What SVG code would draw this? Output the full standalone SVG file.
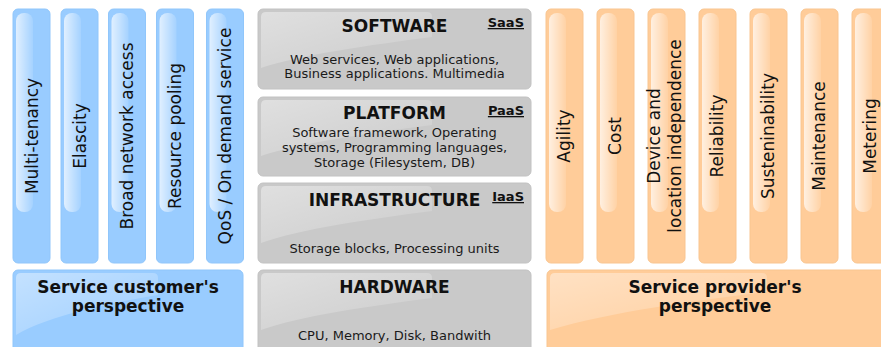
<svg xmlns="http://www.w3.org/2000/svg" width="881" height="347" viewBox="0 0 881 347">
<defs>
<linearGradient id="colGloss" x1="0" y1="0" x2="1" y2="0">
<stop offset="0" stop-color="#fff" stop-opacity="0.7"/>
<stop offset="1" stop-color="#fff" stop-opacity="0.12"/>
</linearGradient>
<linearGradient id="boxGloss" x1="0" y1="0" x2="1" y2="1">
<stop offset="0" stop-color="#fff" stop-opacity="0.42"/>
<stop offset="1" stop-color="#fff" stop-opacity="0.05"/>
</linearGradient>
</defs>
<style>
.blue{fill:#99ccff;stroke:#90c6fb;stroke-width:1}
.orange{fill:#ffcc99;stroke:#f9c590;stroke-width:1}
.gray{fill:#c9c9c9;stroke:#c2c2c2;stroke-width:1}
.cg{fill:url(#colGloss)}
.bg{fill:url(#boxGloss)}
.lbl{font-family:"DejaVu Sans",sans-serif;font-size:17px;fill:#111;text-anchor:middle}
.title{font-family:"DejaVu Sans",sans-serif;font-size:17px;font-weight:bold;fill:#111;text-anchor:middle}
.body{font-family:"DejaVu Sans",sans-serif;font-size:13px;fill:#1a1a1a;text-anchor:middle}
.tag{font-family:"DejaVu Sans",sans-serif;font-size:13px;font-weight:bold;fill:#111;text-anchor:end;text-decoration:underline}
</style>

<g id="col-multitenancy">
<rect class="blue" x="13" y="9" width="37" height="254" rx="5"/>
<rect class="cg" x="16" y="13" width="17" height="199" rx="8"/>
<text class="lbl" transform="translate(37.5,136) rotate(-90)">Multi-tenancy</text>
</g>
<g id="col-elascity">
<rect class="blue" x="61" y="9" width="37" height="254" rx="5"/>
<rect class="cg" x="64" y="13" width="17" height="199" rx="8"/>
<text class="lbl" transform="translate(85.5,136) rotate(-90)">Elascity</text>
</g>
<g id="col-broad">
<rect class="blue" x="108.5" y="9" width="37" height="254" rx="5"/>
<rect class="cg" x="111.5" y="13" width="17" height="199" rx="8"/>
<text class="lbl" transform="translate(133,136) rotate(-90)">Broad network access</text>
</g>
<g id="col-pooling">
<rect class="blue" x="156.5" y="9" width="37" height="254" rx="5"/>
<rect class="cg" x="159.5" y="13" width="17" height="199" rx="8"/>
<text class="lbl" transform="translate(181,136) rotate(-90)">Resource pooling</text>
</g>
<g id="col-qos">
<rect class="blue" x="206.5" y="9" width="37" height="254" rx="5"/>
<rect class="cg" x="209.5" y="13" width="17" height="199" rx="8"/>
<text class="lbl" transform="translate(231,136) rotate(-90)">QoS / On demand service</text>
</g>

<g id="customer">
<rect class="blue" x="13" y="270" width="230" height="90" rx="5"/>
<path class="bg" d="M16,278 Q16,273 21,273 L153,273 Q158,273 158,278 L158,295 C110,303 50,315 16,335 Z"/>
<text class="title" x="128" y="293">Service customer's</text>
<text class="title" x="128" y="312">perspective</text>
</g>

<g id="software">
<rect class="gray" x="258" y="9" width="273" height="80" rx="5"/>
<path class="bg" d="M261,17 Q261,12 266,12 L427,12 Q432,12 432,17 L432,37 C370,45 300,55 261,68 Z"/>
<text class="title" x="394.5" y="32">SOFTWARE</text>
<text class="tag" x="524" y="27">SaaS</text>
<text class="body" x="394.5" y="63.5">Web services, Web applications,</text>
<text class="body" x="394.5" y="78">Business applications. Multimedia</text>
</g>
<g id="platform">
<rect class="gray" x="258" y="97" width="273" height="79" rx="5"/>
<path class="bg" d="M261,105 Q261,100 266,100 L427,100 Q432,100 432,105 L432,125 C370,133 300,143 261,156 Z"/>
<text class="title" x="394.5" y="119">PLATFORM</text>
<text class="tag" x="524" y="115">PaaS</text>
<text class="body" x="394.5" y="136.5">Software framework, Operating</text>
<text class="body" x="394.5" y="151.5">systems, Programming languages,</text>
<text class="body" x="394.5" y="166.5">Storage (Filesystem, DB)</text>
</g>
<g id="infrastructure">
<rect class="gray" x="258" y="183" width="273" height="80" rx="5"/>
<path class="bg" d="M261,191 Q261,186 266,186 L427,186 Q432,186 432,191 L432,211 C370,219 300,229 261,243 Z"/>
<text class="title" x="394.5" y="206">INFRASTRUCTURE</text>
<text class="tag" x="524" y="201">IaaS</text>
<text class="body" x="394.5" y="253">Storage blocks, Processing units</text>
</g>
<g id="hardware">
<rect class="gray" x="258" y="270" width="273" height="90" rx="5"/>
<path class="bg" d="M261,278 Q261,273 266,273 L427,273 Q432,273 432,278 L432,298 C370,306 300,316 261,330 Z"/>
<text class="title" x="394.5" y="293">HARDWARE</text>
<text class="body" x="394.5" y="339.5">CPU, Memory, Disk, Bandwith</text>
</g>

<g id="col-agility">
<rect class="orange" x="546" y="9" width="37" height="254" rx="5"/>
<rect class="cg" x="549" y="13" width="17" height="199" rx="8"/>
<text class="lbl" transform="translate(570,136) rotate(-90)">Agility</text>
</g>
<g id="col-cost">
<rect class="orange" x="597" y="9" width="37" height="254" rx="5"/>
<rect class="cg" x="600" y="13" width="17" height="199" rx="8"/>
<text class="lbl" transform="translate(621,136) rotate(-90)">Cost</text>
</g>
<g id="col-device">
<rect class="orange" x="648" y="9" width="37" height="254" rx="5"/>
<rect class="cg" x="651" y="13" width="17" height="199" rx="8"/>
<text class="lbl" transform="translate(666.5,136) rotate(-90)"><tspan x="0" y="-6.5">Device and</tspan><tspan x="0" y="14.5">location independence</tspan></text>
</g>
<g id="col-reliability">
<rect class="orange" x="699" y="9" width="37" height="254" rx="5"/>
<rect class="cg" x="702" y="13" width="17" height="199" rx="8"/>
<text class="lbl" transform="translate(723,136) rotate(-90)">Reliability</text>
</g>
<g id="col-sustainability">
<rect class="orange" x="750" y="9" width="37" height="254" rx="5"/>
<rect class="cg" x="753" y="13" width="17" height="199" rx="8"/>
<text class="lbl" transform="translate(774,136) rotate(-90)">Susteninability</text>
</g>
<g id="col-maintenance">
<rect class="orange" x="801" y="9" width="37" height="254" rx="5"/>
<rect class="cg" x="804" y="13" width="17" height="199" rx="8"/>
<text class="lbl" transform="translate(825,136) rotate(-90)">Maintenance</text>
</g>
<g id="col-metering">
<rect class="orange" x="852" y="9" width="37" height="254" rx="5"/>
<rect class="cg" x="855" y="13" width="17" height="199" rx="8"/>
<text class="lbl" transform="translate(876,136) rotate(-90)">Metering</text>
</g>

<g id="provider">
<rect class="orange" x="547" y="270" width="340" height="90" rx="5"/>
<path class="bg" d="M550,278 Q550,273 555,273 L762,273 Q767,273 767,278 L767,292 C700,300 610,312 550,330 Z"/>
<text class="title" x="715" y="293">Service provider's</text>
<text class="title" x="715" y="312">perspective</text>
</g>

<g id="connectors"/>
</svg>
